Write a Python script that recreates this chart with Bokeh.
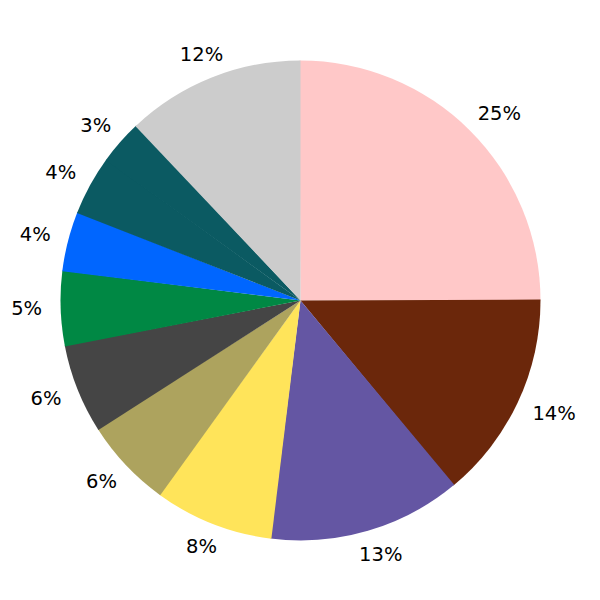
import math
from bokeh.plotting import figure
from bokeh.models import ColumnDataSource, Range1d
from bokeh.core.properties import value
from bokeh.embed import file_html
from bokeh.resources import INLINE

# Data (clockwise from 12 o'clock)
shares = [25, 14, 13, 8, 6, 6, 5, 4, 4, 3, 12]
colors = ["#ffc8c8", "#6b270b", "#6456a3", "#ffe45a", "#ada35e", "#454545",
          "#008844", "#0066ff", "#0b5a62", "#0b5a62", "#cccccc"]
labels = [f"{s}%" for s in shares]

total = float(sum(shares))
starts, ends, lx, ly = [], [], [], []
cum = 0.0
R = 240
LX, LY, LCX = 277, 265, 3
OVERLAP = 0.004  # tiny overlap to hide anti-aliasing seams
for s in shares:
    a0 = cum / total * 2 * math.pi
    cum += s
    a1 = cum / total * 2 * math.pi
    # convert clockwise-from-top to math angles
    starts.append(math.pi / 2 - a1)
    ends.append(math.pi / 2 - a0 + OVERLAP)
    mid = math.pi / 2 - (a0 + a1) / 2
    lx.append(LCX + LX * math.cos(mid))
    ly.append(LY * math.sin(mid))

src = ColumnDataSource(dict(start=starts, end=ends, color=colors,
                            lx=lx, ly=ly, label=labels))

p = figure(width=584, height=584, output_backend="svg", toolbar_location=None,
           x_range=Range1d(-300, 284), y_range=Range1d(-284, 300),
           min_border=0)
p.wedge(x=0, y=0, radius=R, start_angle="start", end_angle="end",
        direction="anticlock", fill_color="color", line_color=None,
        source=src)
p.text(x="lx", y="ly", text="label", source=src, text_align="center",
       text_baseline="middle", text_font=value("DejaVu Sans"),
       text_font_size="19.5px", text_color="#000000")

p.axis.visible = False
p.grid.visible = False
p.outline_line_color = None
p.background_fill_color = "white"
p.border_fill_color = "white"

open("out.html", "w").write(file_html(p, INLINE))
